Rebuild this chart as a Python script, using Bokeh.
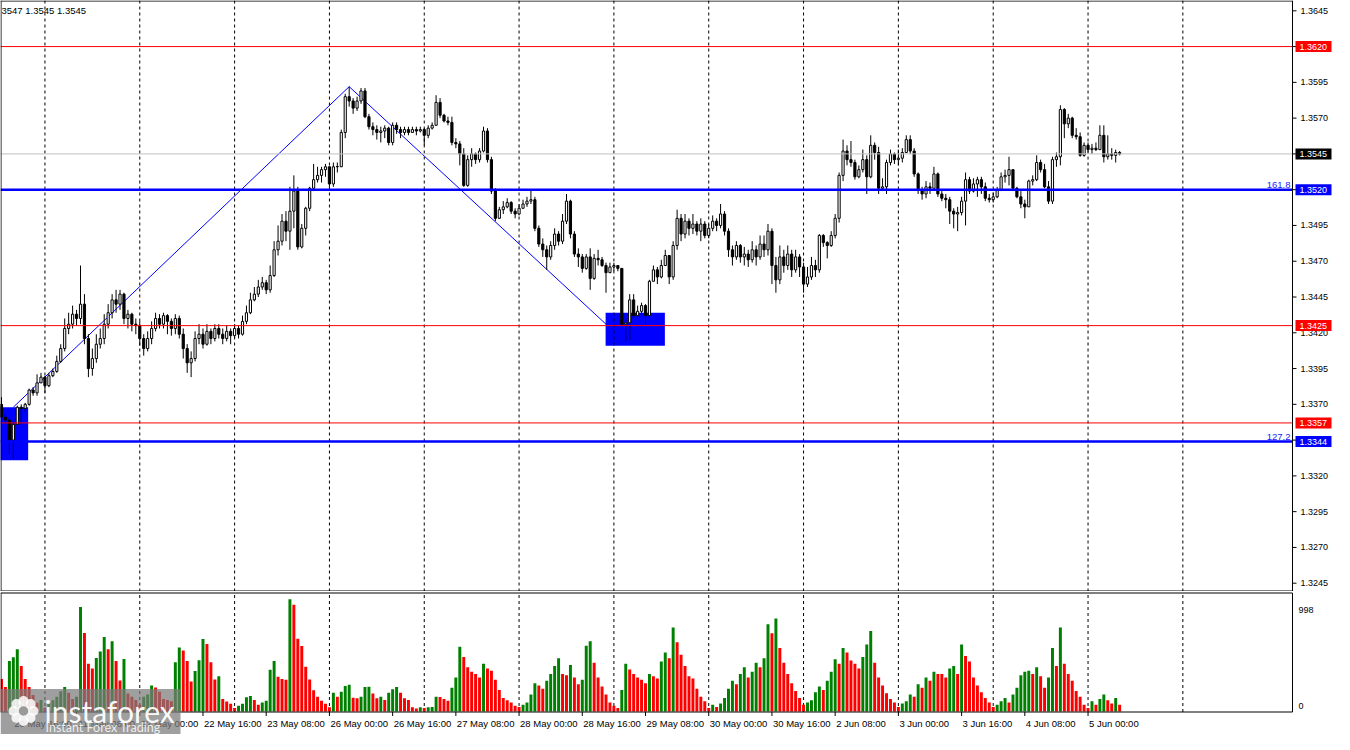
import math
from bokeh.plotting import figure
from bokeh.models import Range1d, ColumnDataSource
from bokeh.core.properties import value
from bokeh.layouts import column
from bokeh.embed import file_html
from bokeh.resources import INLINE

# ---------------- data (H1 bars, index 0 = 21 May 00:00) ----------------
first_bar = -11
first_open = 1.3370

close = [
    1.3361, 1.3359, 1.3345, 1.3356, 1.3368, 1.3367, 1.3370, 1.3380, 1.3378, 1.3385,
    1.3389, 1.3383, 1.3390, 1.3393, 1.3400, 1.3409, 1.3423, 1.3426, 1.3433, 1.3430,
    1.3440, 1.3416, 1.3395, 1.3402, 1.3412, 1.3416, 1.3426, 1.3434, 1.3443, 1.3440,
    1.3447, 1.3430, 1.3433, 1.3426, 1.3425, 1.3416, 1.3409, 1.3416, 1.3423, 1.3430,
    1.3426, 1.3432, 1.3428, 1.3423, 1.3430, 1.3419, 1.3409, 1.3399, 1.3402, 1.3416,
    1.3419, 1.3412, 1.3421, 1.3416, 1.3423, 1.3419, 1.3416, 1.3421, 1.3418, 1.3423,
    1.3419, 1.3428, 1.3434, 1.3443, 1.3447, 1.3452, 1.3455, 1.3450, 1.3460, 1.3478,
    1.3484, 1.3498, 1.3491, 1.3505, 1.3519, 1.3480, 1.3493, 1.3507, 1.3521, 1.3527,
    1.3530, 1.3534, 1.3536, 1.3524, 1.3536, 1.3536, 1.3560, 1.3585, 1.3582, 1.3577,
    1.3582, 1.3589, 1.3571, 1.3564, 1.3562, 1.3560, 1.3561, 1.3563, 1.3553, 1.3565,
    1.3562, 1.3560, 1.3562, 1.3560, 1.3562, 1.3561, 1.3562, 1.3558, 1.3563, 1.3565,
    1.3581, 1.3572, 1.3568, 1.3567, 1.3553, 1.3552, 1.3545, 1.3523, 1.3541, 1.3545,
    1.3541, 1.3547, 1.3561, 1.3541, 1.3519, 1.3500, 1.3506, 1.3508, 1.3511, 1.3505,
    1.3503, 1.3507, 1.3510, 1.3512, 1.3513, 1.3493, 1.3482, 1.3478, 1.3473, 1.3481,
    1.3489, 1.3484, 1.3498, 1.3512, 1.3489, 1.3475, 1.3473, 1.3465, 1.3473, 1.3458,
    1.3472, 1.3471, 1.3467, 1.3462, 1.3466, 1.3467, 1.3465, 1.3426, 1.3427, 1.3443,
    1.3432, 1.3435, 1.3439, 1.3432, 1.3456, 1.3464, 1.3459, 1.3467, 1.3474, 1.3459,
    1.3481, 1.3500, 1.3489, 1.3498, 1.3493, 1.3496, 1.3491, 1.3496, 1.3488, 1.3493,
    1.3498, 1.3495, 1.3503, 1.3491, 1.3478, 1.3473, 1.3481, 1.3473, 1.3475, 1.3471,
    1.3478, 1.3473, 1.3482, 1.3478, 1.3491, 1.3467, 1.3457, 1.3473, 1.3467, 1.3475,
    1.3464, 1.3473, 1.3466, 1.3454, 1.3459, 1.3467, 1.3464, 1.3488, 1.3483, 1.3481,
    1.3488, 1.3500, 1.3530, 1.3547, 1.3541, 1.3539, 1.3529, 1.3534, 1.3541, 1.3529,
    1.3551, 1.3546, 1.3521, 1.3522, 1.3539, 1.3545, 1.3541, 1.3542, 1.3546, 1.3555,
    1.3547, 1.3531, 1.3520, 1.3517, 1.3522, 1.3521, 1.3531, 1.3517, 1.3514, 1.3513,
    1.3505, 1.3503, 1.3504, 1.3512, 1.3527, 1.3519, 1.3524, 1.3527, 1.3522, 1.3514,
    1.3513, 1.3515, 1.3520, 1.3529, 1.3530, 1.3534, 1.3521, 1.3515, 1.3510, 1.3508,
    1.3526, 1.3527, 1.3539, 1.3534, 1.3522, 1.3512, 1.3541, 1.3543, 1.3576, 1.3566,
    1.3570, 1.3558, 1.3557, 1.3544, 1.3551, 1.3548, 1.3549, 1.3548, 1.3558, 1.3543,
    1.3545, 1.3544, 1.3546, 1.3545,
]

high = [
    1.3375, 1.3363, 1.3361, 1.3358, 1.3369, 1.3370, 1.3371, 1.3381, 1.3382, 1.3391,
    1.3392, 1.3390, 1.3392, 1.3395, 1.3404, 1.3412, 1.3430, 1.3434, 1.3439, 1.3436,
    1.3467, 1.3447, 1.3419, 1.3409, 1.3419, 1.3423, 1.3433, 1.3440, 1.3447, 1.3450,
    1.3450, 1.3448, 1.3436, 1.3434, 1.3430, 1.3428, 1.3419, 1.3421, 1.3428, 1.3434,
    1.3433, 1.3434, 1.3433, 1.3430, 1.3433, 1.3432, 1.3423, 1.3412, 1.3407, 1.3421,
    1.3426, 1.3423, 1.3426, 1.3423, 1.3426, 1.3426, 1.3423, 1.3425, 1.3423, 1.3426,
    1.3425, 1.3432, 1.3439, 1.3448, 1.3452, 1.3457, 1.3459, 1.3457, 1.3467, 1.3484,
    1.3495, 1.3503, 1.3505, 1.3522, 1.3530, 1.3522, 1.3496, 1.3508, 1.3522, 1.3538,
    1.3536, 1.3536, 1.3538, 1.3527, 1.3539, 1.3539, 1.3562, 1.3587, 1.3592, 1.3584,
    1.3585, 1.3591, 1.3591, 1.3573, 1.3567, 1.3565, 1.3564, 1.3565, 1.3564, 1.3567,
    1.3567, 1.3564, 1.3564, 1.3564, 1.3564, 1.3564, 1.3564, 1.3563, 1.3565, 1.3567,
    1.3586, 1.3584, 1.3573, 1.3571, 1.3571, 1.3556, 1.3554, 1.3549, 1.3544, 1.3549,
    1.3546, 1.3549, 1.3564, 1.3563, 1.3543, 1.3521, 1.3508, 1.3512, 1.3514, 1.3512,
    1.3507, 1.3510, 1.3513, 1.3515, 1.3520, 1.3515, 1.3495, 1.3486, 1.3481, 1.3484,
    1.3493, 1.3491, 1.3503, 1.3517, 1.3513, 1.3491, 1.3479, 1.3475, 1.3475, 1.3479,
    1.3475, 1.3478, 1.3473, 1.3469, 1.3469, 1.3469, 1.3467, 1.3465, 1.3430, 1.3447,
    1.3447, 1.3439, 1.3441, 1.3440, 1.3457, 1.3467, 1.3466, 1.3471, 1.3478, 1.3474,
    1.3484, 1.3506, 1.3503, 1.3503, 1.3500, 1.3503, 1.3498, 1.3500, 1.3498, 1.3496,
    1.3502, 1.3500, 1.3510, 1.3505, 1.3493, 1.3481, 1.3484, 1.3482, 1.3480, 1.3478,
    1.3484, 1.3481, 1.3488, 1.3488, 1.3496, 1.3493, 1.3473, 1.3481, 1.3478, 1.3481,
    1.3478, 1.3478, 1.3475, 1.3469, 1.3466, 1.3473, 1.3471, 1.3489, 1.3489, 1.3484,
    1.3491, 1.3503, 1.3532, 1.3555, 1.3551, 1.3554, 1.3541, 1.3537, 1.3548, 1.3544,
    1.3558, 1.3553, 1.3550, 1.3528, 1.3541, 1.3548, 1.3546, 1.3548, 1.3549, 1.3558,
    1.3558, 1.3549, 1.3532, 1.3522, 1.3526, 1.3525, 1.3536, 1.3532, 1.3519, 1.3517,
    1.3515, 1.3507, 1.3508, 1.3515, 1.3532, 1.3529, 1.3528, 1.3529, 1.3529, 1.3525,
    1.3517, 1.3518, 1.3522, 1.3532, 1.3534, 1.3543, 1.3534, 1.3522, 1.3519, 1.3513,
    1.3527, 1.3530, 1.3544, 1.3541, 1.3538, 1.3526, 1.3543, 1.3546, 1.3579, 1.3577,
    1.3573, 1.3571, 1.3563, 1.3560, 1.3553, 1.3553, 1.3552, 1.3553, 1.3565, 1.3565,
    1.3558, 1.3549, 1.3548, 1.3547,
]

low = [
    1.3358, 1.3356, 1.3335, 1.3332, 1.3356, 1.3356, 1.3365, 1.3369, 1.3376, 1.3376,
    1.3385, 1.3378, 1.3382, 1.3389, 1.3392, 1.3399, 1.3407, 1.3419, 1.3423, 1.3425,
    1.3426, 1.3412, 1.3389, 1.3390, 1.3399, 1.3409, 1.3412, 1.3423, 1.3430, 1.3434,
    1.3436, 1.3426, 1.3423, 1.3421, 1.3419, 1.3411, 1.3404, 1.3407, 1.3412, 1.3421,
    1.3423, 1.3423, 1.3419, 1.3418, 1.3419, 1.3416, 1.3402, 1.3392, 1.3389, 1.3400,
    1.3412, 1.3409, 1.3411, 1.3412, 1.3414, 1.3416, 1.3412, 1.3414, 1.3412, 1.3416,
    1.3416, 1.3418, 1.3426, 1.3433, 1.3442, 1.3445, 1.3450, 1.3447, 1.3448, 1.3459,
    1.3474, 1.3481, 1.3484, 1.3478, 1.3493, 1.3478, 1.3479, 1.3488, 1.3505, 1.3519,
    1.3525, 1.3525, 1.3529, 1.3522, 1.3522, 1.3532, 1.3536, 1.3556, 1.3578, 1.3573,
    1.3575, 1.3580, 1.3570, 1.3562, 1.3558, 1.3555, 1.3553, 1.3556, 1.3551, 1.3551,
    1.3559, 1.3556, 1.3558, 1.3558, 1.3560, 1.3558, 1.3560, 1.3551, 1.3556, 1.3562,
    1.3565, 1.3570, 1.3567, 1.3565, 1.3551, 1.3549, 1.3537, 1.3522, 1.3522, 1.3536,
    1.3538, 1.3539, 1.3546, 1.3539, 1.3517, 1.3498, 1.3500, 1.3503, 1.3507, 1.3503,
    1.3500, 1.3502, 1.3507, 1.3508, 1.3510, 1.3491, 1.3480, 1.3473, 1.3464, 1.3471,
    1.3478, 1.3481, 1.3482, 1.3496, 1.3486, 1.3473, 1.3466, 1.3462, 1.3464, 1.3450,
    1.3457, 1.3467, 1.3466, 1.3448, 1.3462, 1.3463, 1.3463, 1.3425, 1.3414, 1.3415,
    1.3430, 1.3430, 1.3431, 1.3426, 1.3431, 1.3456, 1.3454, 1.3458, 1.3467, 1.3454,
    1.3457, 1.3478, 1.3484, 1.3486, 1.3488, 1.3489, 1.3488, 1.3484, 1.3486, 1.3486,
    1.3491, 1.3491, 1.3493, 1.3488, 1.3473, 1.3467, 1.3471, 1.3469, 1.3467, 1.3466,
    1.3469, 1.3467, 1.3471, 1.3473, 1.3474, 1.3454, 1.3448, 1.3454, 1.3462, 1.3464,
    1.3459, 1.3462, 1.3459, 1.3448, 1.3452, 1.3457, 1.3459, 1.3462, 1.3480, 1.3472,
    1.3480, 1.3486, 1.3497, 1.3526, 1.3537, 1.3536, 1.3527, 1.3528, 1.3532, 1.3517,
    1.3528, 1.3541, 1.3517, 1.3519, 1.3517, 1.3537, 1.3538, 1.3537, 1.3539, 1.3546,
    1.3545, 1.3529, 1.3517, 1.3513, 1.3514, 1.3517, 1.3521, 1.3515, 1.3512, 1.3507,
    1.3496, 1.3493, 1.3491, 1.3502, 1.3495, 1.3517, 1.3518, 1.3515, 1.3517, 1.3512,
    1.3511, 1.3511, 1.3514, 1.3519, 1.3525, 1.3523, 1.3519, 1.3514, 1.3507, 1.3500,
    1.3508, 1.3523, 1.3526, 1.3532, 1.3521, 1.3510, 1.3510, 1.3536, 1.3537, 1.3556,
    1.3563, 1.3556, 1.3555, 1.3543, 1.3543, 1.3546, 1.3545, 1.3547, 1.3548, 1.3539,
    1.3541, 1.3541, 1.3539, 1.3544,
]

volume = [
    287, 216, 444, 478, 549, 401, 287, 216, 145, 77,
    102, 34, 85, 100, 130, 179, 216, 165, 110, 130,
    921, 691, 421, 378, 472, 529, 657, 549, 620, 444,
    273, 463, 159, 130, 102, 60, 130, 150, 230, 211,
    173, 111, 102, 90, 435, 563, 537, 444, 264, 358,
    452, 640, 594, 435, 281, 310, 111, 88, 68, 31,
    51, 68, 125, 136, 102, 60, 79, 94, 367, 444,
    307, 287, 280, 990, 941, 642, 577, 395, 281, 188,
    130, 94, 68, 37, 165, 130, 173, 225, 236, 122,
    117, 130, 216, 218, 159, 117, 130, 102, 165, 196,
    216, 165, 117, 102, 37, 26, 37, 31, 37, 40,
    130, 128, 110, 95, 210, 300, 570, 480, 390, 350,
    330, 300, 420, 380, 360, 280, 190, 120, 100, 80,
    50, 40, 60, 80, 150, 250, 230, 200, 270, 330,
    400, 470, 330, 320, 410, 300, 240, 280, 580, 620,
    430, 300, 220, 150, 80, 50, 30, 190, 420, 370,
    330, 300, 280, 250, 330, 310, 290, 440, 520, 470,
    740, 610, 500, 400, 310, 290, 200, 130, 90, 30,
    60, 40, 70, 120, 200, 270, 240, 330, 390, 300,
    350, 430, 390, 470, 770, 690, 820, 560, 430, 330,
    250, 180, 120, 60, 80, 100, 170, 220, 190, 270,
    350, 460, 420, 560, 520, 450, 420, 380, 480, 590,
    710, 430, 300, 230, 160, 110, 80, 40, 70, 90,
    150, 130, 240, 210, 300, 270, 350, 330, 330, 300,
    380, 400, 330, 590, 490, 440, 300, 230, 170, 120,
    80, 40, 60, 90, 120, 80, 150, 210, 320, 350,
    360, 330, 390, 310, 210, 300, 560, 400, 740, 420,
    330, 270, 180, 130, 60, 30, 90, 60, 110, 150,
    100, 70, 120, 60,
]

price_ticks = [1.3245, 1.3270, 1.3295, 1.3320, 1.3345, 1.3370, 1.3395, 1.3420, 1.3445,
               1.3470, 1.3495, 1.3520, 1.3545, 1.3570, 1.3595, 1.3620, 1.3645]

level_prices = [1.3620, 1.3545, 1.3520, 1.3425, 1.3357, 1.3344]
level_tag_colors = ["#ff0000", "#000000", "#0000ff", "#ff0000", "#ff0000", "#0000ff"]
level_line_colors = ["#ff0000", "#c0c0c0", "#0000ff", "#ff0000", "#ff0000", "#0000ff"]
level_line_widths = [1, 1, 2.5, 1, 1, 2.5]

fib_labels = ["161.8", "127.2"]
fib_prices = [1.3520, 1.3344]

zigzag_bar = [-8, 77, 142]
zigzag_price = [1.3368, 1.3592, 1.3426]

day_separators = [0, 24, 48, 72, 96, 120, 144, 168, 192, 216, 240, 264, 288]
time_ticks = [-8, 8, 24, 40, 56, 72, 88, 104, 120, 136, 152, 168, 184, 200, 216, 232, 248, 264]
time_labels = ["20 May 16:00", "21 May 08:00", "22 May 00:00", "22 May 16:00", "23 May 08:00",
               "26 May 00:00", "26 May 16:00", "27 May 08:00", "28 May 00:00", "28 May 16:00",
               "29 May 08:00", "30 May 00:00", "30 May 16:00", "2 Jun 08:00", "3 Jun 00:00",
               "3 Jun 16:00", "4 Jun 08:00", "5 Jun 00:00"]

volume_scale_max = 998
header_text = "3547 1.3545 1.3545"

# ---------------- derived ----------------
n = min(len(close), len(high), len(low), len(volume))
bars = list(range(first_bar, first_bar + n))
opens = [first_open] + close[:n - 1]

bull = dict(x=[], top=[], bottom=[])
bear = dict(x=[], top=[], bottom=[])
wick = dict(x=[], lo=[], hi=[])
for i in range(n):
    o, c = opens[i], close[i]
    hi = max(high[i], o, c)
    lo = min(low[i], o, c)
    wick["x"].append(bars[i]); wick["lo"].append(lo); wick["hi"].append(hi)
    if c > o:
        bull["x"].append(bars[i]); bull["top"].append(c); bull["bottom"].append(o)
    else:
        t, b = o, c
        if abs(t - b) < 0.00002:
            t = b + 0.00002
        bear["x"].append(bars[i]); bear["top"].append(t); bear["bottom"].append(b)

vol_colors = []
prev = None
for v in volume[:n]:
    vol_colors.append("#008000" if (prev is not None and v > prev) else "#ff0000")
    prev = v
vol_src = ColumnDataSource(dict(x=bars, v=volume[:n], c=vol_colors))

# ---------------- geometry ----------------
W = 1334
AXIS_W = 42
CHART_W = W - AXIS_W
H1, H2 = 591, 143
X0, X1 = -11.25, 315.75
PX = (X1 - X0) / CHART_W
XR = X0 + W * PX
Y0, Y1 = 1.32392, 1.36522
PY = (Y1 - Y0) / H1
FONT = value("Liberation Sans")
AX_FS = value("9px")

# ---------------- price panel ----------------
p = figure(width=W, height=H1, x_range=Range1d(X0, XR), y_range=Range1d(Y0, Y1),
           output_backend="svg", toolbar_location=None,
           x_axis_location=None, y_axis_location=None,
           min_border_left=0, min_border_right=0, min_border_top=0, min_border_bottom=0)
p.grid.visible = False
p.outline_line_color = None

# blue boxes
p.quad(left=[-11.5], right=[-4.25], bottom=[1.3331], top=[1.3368],
       fill_color="#0000ff", line_color=None)
p.quad(left=[141.9], right=[156.9], bottom=[1.3411], top=[1.3434],
       fill_color="#0000ff", line_color=None)

# day separators
p.segment(x0=day_separators, y0=[Y0] * len(day_separators), x1=day_separators,
          y1=[Y1] * len(day_separators), line_color="black", line_dash="3 3", line_width=1)

# zigzag
p.line(zigzag_bar, zigzag_price, line_color="#0000ff", line_width=1)

# candles
p.segment(x0="x", y0="lo", x1="x", y1="hi", source=ColumnDataSource(wick),
          line_color="black", line_width=1)
p.vbar(x="x", top="top", bottom="bottom", width=0.55, source=ColumnDataSource(bull),
       fill_color="white", line_color="black", line_width=1)
p.vbar(x="x", top="top", bottom="bottom", width=0.55, source=ColumnDataSource(bear),
       fill_color="black", line_color="black", line_width=1)

# horizontal levels
for lp, lc, lw in zip(level_prices, level_line_colors, level_line_widths):
    p.segment(x0=[X0], y0=[lp], x1=[X1], y1=[lp], line_color=lc, line_width=lw)

# border of chart
p.segment(x0=[X0, X0, X0 + 0.5 * PX, X1], y0=[Y1 - 0.5 * PY, Y0 + 0.5 * PY, Y0, Y0],
          x1=[X1, X1, X0 + 0.5 * PX, X1], y1=[Y1 - 0.5 * PY, Y0 + 0.5 * PY, Y1, Y1],
          line_color="black", line_width=1)

# right price axis
p.segment(x0=[X1] * len(price_ticks), y0=price_ticks, x1=[X1 + 4 * PX] * len(price_ticks),
          y1=price_ticks, line_color="black", line_width=1)
p.text(x=[X1 + 8 * PX] * len(price_ticks), y=price_ticks,
       text=[f"{t:.4f}" for t in price_ticks], text_align="left", text_baseline="middle",
       text_font=FONT, text_font_size=AX_FS, text_color="black")

# price tags
p.quad(left=[X1 + 3 * PX] * len(level_prices), right=[X1 + 39 * PX] * len(level_prices),
       bottom=[lp - 5.5 * PY for lp in level_prices], top=[lp + 5.5 * PY for lp in level_prices],
       fill_color=level_tag_colors, line_color=None)
p.text(x=[X1 + 7 * PX] * len(level_prices), y=level_prices,
       text=[f"{lp:.4f}" for lp in level_prices], text_align="left", text_baseline="middle",
       text_font=FONT, text_font_size=AX_FS, text_color="white")

# fibonacci labels
p.text(x=[X1 - 2 * PX] * len(fib_prices), y=[fp + 2 * PY for fp in fib_prices], text=fib_labels,
       text_align="right", text_baseline="bottom", text_font=FONT,
       text_font_size=value("9.5px"), text_color="#2020ff")

# header
p.text(x=[X0 + 1 * PX], y=[Y1 - 4 * PY], text=[header_text], text_align="left",
       text_baseline="top", text_font=FONT, text_font_size=value("9.5px"), text_color="black")

# ---------------- volume panel ----------------
CH_TOP, CH_BOT = 2, 121          # chart area in px from the top of this panel
VT = 1040
PV = VT / (CH_BOT - 1 - CH_TOP)   # volume units per px (0 at px 120)
VY1 = VT + CH_TOP * PV
VY0 = -(H2 - (CH_BOT - 1)) * PV
yb = -0.5 * PV
yt = VT + 0.5 * PV

q = figure(width=W, height=H2, x_range=Range1d(X0, XR), y_range=Range1d(VY0, VY1),
           output_backend="svg", toolbar_location=None,
           x_axis_location=None, y_axis_location=None,
           min_border_left=0, min_border_right=0, min_border_top=0, min_border_bottom=0)
q.grid.visible = False
q.outline_line_color = None

q.segment(x0=day_separators, y0=[yb] * len(day_separators), x1=day_separators,
          y1=[yt] * len(day_separators), line_color="black", line_dash="3 3", line_width=1)

q.vbar(x="x", top="v", bottom=0, width=0.75, source=vol_src, fill_color="c", line_color=None)

# border
q.segment(x0=[X0, X0, X0 + 0.5 * PX, X1], y0=[yt, yb, yb, yb],
          x1=[X1, X1, X0 + 0.5 * PX, X1], y1=[yt, yb, yt, yt],
          line_color="black", line_width=1)

# volume scale labels
q.text(x=[X1 + 6 * PX, X1 + 6 * PX], y=[volume_scale_max - 12 * PV, 6 * PV],
       text=[str(volume_scale_max), "0"], text_align="left", text_baseline="middle",
       text_font=FONT, text_font_size=AX_FS, text_color="black")

# time axis
q.segment(x0=time_ticks, y0=[yb] * len(time_ticks), x1=time_ticks,
          y1=[yb - 4 * PV] * len(time_ticks), line_color="black", line_width=1)
q.text(x=[t + 1 * PX for t in time_ticks], y=[yb - 6 * PV] * len(time_ticks), text=time_labels,
       text_align="left", text_baseline="top", text_font=FONT,
       text_font_size=value("9.5px"), text_color="black")

# instaforex watermark (box, flower-like emblem drawn with circles, texts)
q.quad(left=[X0], right=[X0 + 180 * PX], bottom=[VY0], top=[yb + 23 * PV],
       fill_color="#7a7a7a", fill_alpha=0.72, line_color=None)
cx, cy = X0 + 23 * PX, yb + 1 * PV
petal_x = [cx + 10 * PX * math.cos(math.radians(a)) for a in range(0, 360, 45)]
petal_y = [cy + 10 * PV * math.sin(math.radians(a)) for a in range(0, 360, 45)]
q.scatter(petal_x, petal_y, size=10, marker="circle", fill_color="white", fill_alpha=0.85,
          line_color=None)
q.scatter([cx], [cy], size=11, marker="circle", fill_color="#9a9a9a", fill_alpha=1,
          line_color="white", line_alpha=0.85, line_width=1.5)
q.text(x=[X0 + 44 * PX], y=[yb + 1 * PV], text=["instaforex"], text_align="left",
       text_baseline="alphabetic", text_font=value("Lato"),
       text_font_size=value("30px"), text_color="white", text_alpha=0.95)
q.text(x=[X0 + 45 * PX], y=[yb - 15 * PV], text=["Instant Forex Trading"], text_align="left",
       text_baseline="alphabetic", text_font=value("Lato"),
       text_font_size=value("12.5px"), text_color="white", text_alpha=0.85)

layout = column(p, q, spacing=0)
open("out.html", "w").write(file_html(layout, INLINE))
